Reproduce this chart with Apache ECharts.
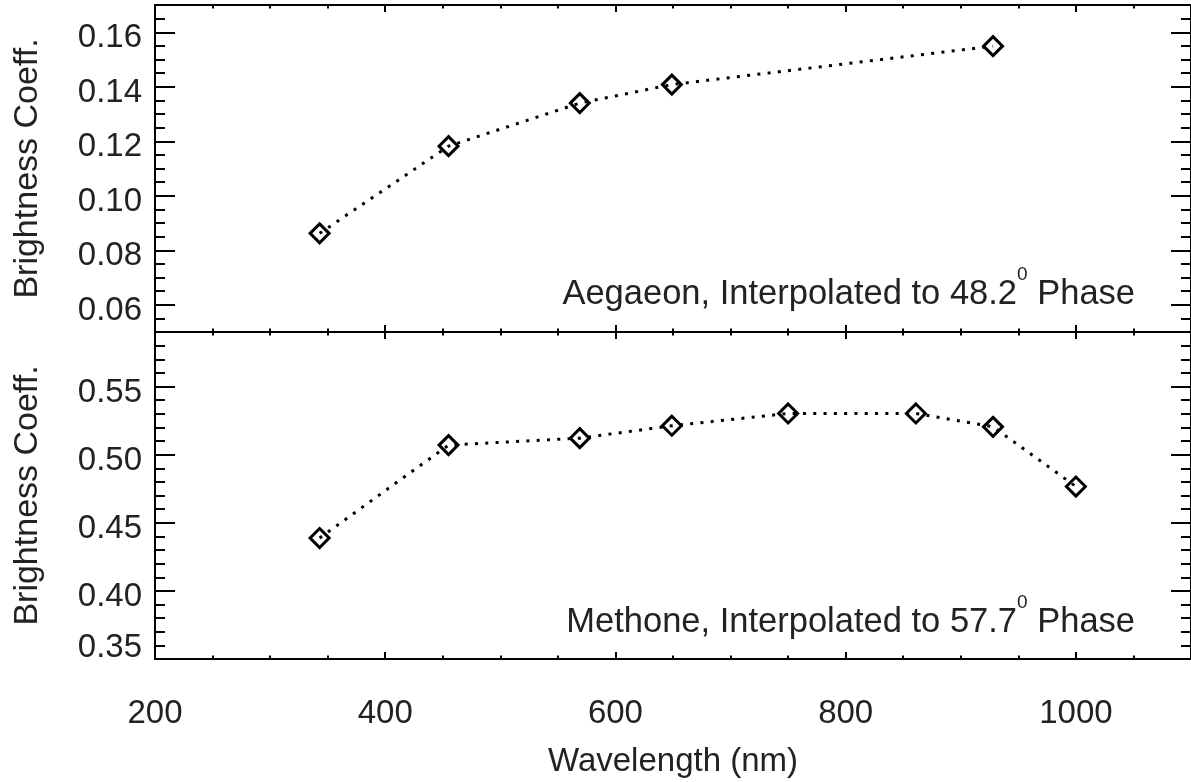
<!DOCTYPE html>
<html>
<head>
<meta charset="utf-8">
<script src="https://cdn.jsdelivr.net/npm/echarts@6/dist/echarts.min.js"></script>
<style>html,body{margin:0;padding:0;background:#fff}#c{width:1191px;height:782px}</style>
</head>
<body>
<div id="c"></div>
<script>
// ---- data ----
const aegaeonWavelength = [343, 455, 569, 649, 928];
const aegaeonCoeff = [0.0862, 0.1182, 0.1340, 0.1408, 0.1549];
const methoneWavelength = [343, 455, 569, 649, 750, 861, 928, 1000];
const methoneCoeff = [0.4388, 0.5070, 0.5121, 0.5212, 0.5302, 0.5302, 0.5204, 0.4766];
const topTicks = [0.06, 0.08, 0.10, 0.12, 0.14, 0.16];
const bottomTicks = [0.35, 0.40, 0.45, 0.50, 0.55];
const xTicks = [200, 400, 600, 800, 1000];
const yTitle = 'Brightness Coeff.';
const xTitle = 'Wavelength (nm)';
const topNote = ['Aegaeon, Interpolated to 48.2', '0', ' Phase'];
const bottomNote = ['Methone, Interpolated to 57.7', '0', ' Phase'];

const FONT = 'Liberation Sans';
const TXT = '#222';
const chart = echarts.init(document.getElementById('c'));

const lineW = 2;
function xAx(grid, pos, showLabel) {
  return {
    type: 'value', gridIndex: grid, position: pos, min: 200, max: 1100, interval: 200,
    axisLine: {show: true, onZero: false, lineStyle: {color: '#000', width: lineW}},
    axisTick: {show: true, inside: true, length: 7, lineStyle: {color: '#000', width: 2}},
    minorTick: {show: true, splitNumber: 4, length: 3.5, lineStyle: {color: '#000', width: 2}},
    splitLine: {show: false}, minorSplitLine: {show: false},
    axisLabel: {show: showLabel, margin: 38, fontFamily: FONT, fontSize: 33, color: TXT,
      customValues: xTicks, formatter: v => String(v)},
    name: showLabel ? xTitle : '', nameLocation: 'middle', nameGap: 86,
    nameTextStyle: {fontFamily: FONT, fontSize: 33, color: TXT}
  };
}
function yMinor(grid, pos, min, max, step) {
  return {
    type: 'value', gridIndex: grid, position: pos, min: min, max: max, interval: step,
    axisLine: {show: true, onZero: false, lineStyle: {color: '#000', width: lineW}},
    axisTick: {show: true, inside: true, length: 10, lineStyle: {color: '#000', width: 2}},
    axisLabel: {show: false}, splitLine: {show: false}
  };
}
function yMajor(grid, pos, min, max, ticks, showLabel, bottomVal) {
  return {
    type: 'value', gridIndex: grid, position: pos, min: min, max: max,
    axisLine: {show: false},
    axisTick: {show: true, inside: true, length: 20, customValues: ticks, lineStyle: {color: '#000', width: 2}},
    axisLabel: {show: showLabel, customValues: ticks, margin: 13, fontFamily: FONT, fontSize: 33, color: TXT,
      formatter: v => (Math.abs(v - bottomVal) < 1e-9 ? '{b|' : '{n|') + v.toFixed(2) + '}',
      rich: {
        n: {fontFamily: FONT, fontSize: 33, color: TXT, padding: [12, 0, 0, 0]},
        b: {fontFamily: FONT, fontSize: 33, color: TXT, padding: [0, 0, 22, 0]}
      }},
    splitLine: {show: false},
    name: showLabel ? yTitle : '', nameLocation: 'middle', nameGap: 110,
    nameTextStyle: {fontFamily: FONT, fontSize: 34, color: TXT}
  };
}

function note(parts, y) {
  return {
    type: 'text', x: 1135, y: y,
    style: {
      text: '{a|' + parts[0] + '}{s|' + parts[1] + '}{a|' + parts[2] + '}',
      align: 'right', verticalAlign: 'middle',
      rich: {
        a: {fontFamily: FONT, fontSize: 34.5, fill: TXT, lineHeight: 58},
        s: {fontFamily: FONT, fontSize: 19, fill: TXT, lineHeight: 16, verticalAlign: 'top'}
      }
    }
  };
}

const seriesStyle = {
  type: 'line', symbol: 'diamond', symbolSize: 19,
  itemStyle: {color: 'rgba(0,0,0,0)', borderColor: '#000', borderWidth: 3},
  lineStyle: {color: '#000', width: 3, type: [3, 7.3], cap: 'butt'},
  emphasis: {disabled: true}, animation: false, z: 3
};

chart.setOption({
  animation: false,
  backgroundColor: '#fff',
  grid: [
    {left: 155, top: 5, width: 1038, height: 327},
    {left: 155, top: 332, width: 1038, height: 327}
  ],
  xAxis: [xAx(0, 'bottom', false), xAx(0, 'top', false), xAx(1, 'bottom', true), xAx(1, 'top', false)],
  yAxis: [
    yMinor(0, 'left', 0.05, 0.17, 0.005),
    yMajor(0, 'left', 0.05, 0.17, topTicks, true, -1),
    yMinor(0, 'right', 0.05, 0.17, 0.005),
    yMajor(0, 'right', 0.05, 0.17, topTicks, false, -1),
    yMinor(1, 'left', 0.35, 0.59, 0.01),
    yMajor(1, 'left', 0.35, 0.59, bottomTicks, true, 0.35),
    yMinor(1, 'right', 0.35, 0.59, 0.01),
    yMajor(1, 'right', 0.35, 0.59, bottomTicks, false, 0.35)
  ],
  series: [
    Object.assign({}, seriesStyle, {xAxisIndex: 0, yAxisIndex: 0,
      data: aegaeonWavelength.map((w, i) => [w, aegaeonCoeff[i]])}),
    Object.assign({}, seriesStyle, {xAxisIndex: 2, yAxisIndex: 4,
      data: methoneWavelength.map((w, i) => [w, methoneCoeff[i]])})
  ],
  graphic: [note(topNote, 294), note(bottomNote, 622)]
});
</script>
</body>
</html>
